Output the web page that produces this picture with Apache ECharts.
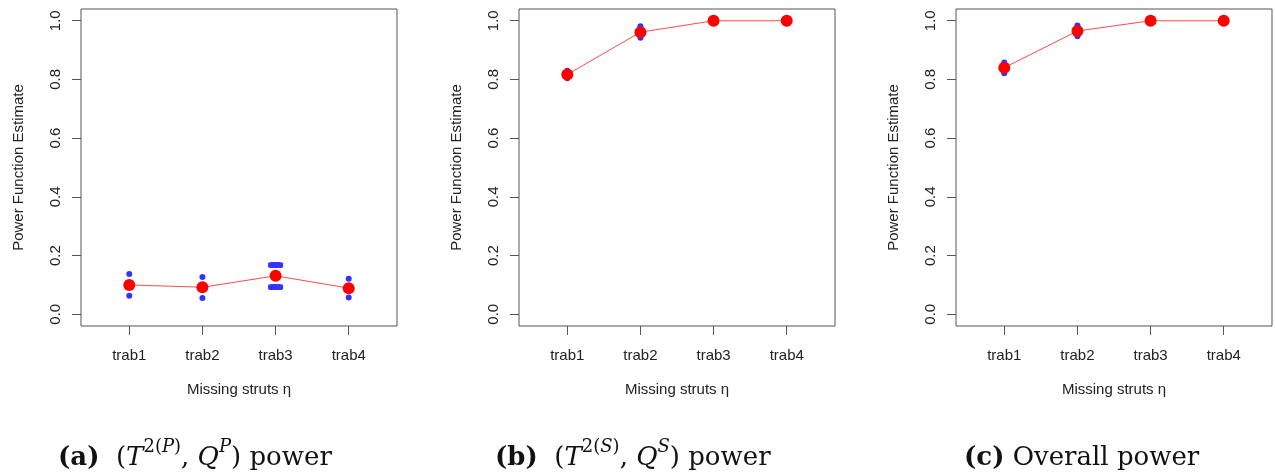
<!DOCTYPE html>
<html>
<head>
<meta charset="utf-8">
<script src="https://cdn.jsdelivr.net/npm/echarts@6/dist/echarts.min.js"></script>
<style>
  html, body { margin: 0; padding: 0; background: #fff; }
  #chart { width: 1275px; height: 475px; }
</style>
</head>
<body>
<div id="chart"></div>
<script>
// Missing strut configurations on the x axis
const categories = ['trab1', 'trab2', 'trab3', 'trab4'];
const yTicks = [0, 0.2, 0.4, 0.6, 0.8, 1.0];

// (a) (T^2(P), Q^P) power
const meanP = [0.100, 0.092, 0.131, 0.089];
const lowP  = [0.063, 0.055, 0.093, 0.057];
const highP = [0.137, 0.127, 0.168, 0.121];

// (b) (T^2(S), Q^S) power
const meanS = [0.817, 0.961, 1.000, 1.000];
const lowS  = [0.804, 0.942, 1.000, 1.000];
const highS = [0.830, 0.981, 1.000, 1.000];

// (c) Overall power
const meanAll = [0.840, 0.965, 1.000, 1.000];
const lowAll  = [0.821, 0.947, 1.000, 1.000];
const highAll = [0.858, 0.984, 1.000, 1.000];

const panels = [
  { mean: meanP,   low: lowP,   high: highP,   left: 81,  wideIdx: 2 },
  { mean: meanS,   low: lowS,   high: highS,   left: 519, wideIdx: -1 },
  { mean: meanAll, low: lowAll, high: highAll, left: 956, wideIdx: -1 }
];

const FONT = '"Liberation Sans", Arial, Helvetica, sans-serif';
const INK = '#222';
const FRAME = '#555';

const grids = [], xAxes = [], yAxes = [], series = [];

panels.forEach((p, k) => {
  grids.push({
    left: p.left, top: 9, width: 316, height: 317,
    show: true, borderColor: FRAME, borderWidth: 1, backgroundColor: 'transparent'
  });
  xAxes.push({
    type: 'value', gridIndex: k, min: 0.34, max: 4.66, position: 'bottom',
    name: 'Missing struts η', nameLocation: 'middle', nameGap: 56,
    nameTextStyle: { fontFamily: FONT, fontSize: 15, color: INK },
    axisLine: { show: false, onZero: false },
    splitLine: { show: false },
    axisTick: { show: true, inside: false, length: 9, customValues: [1, 2, 3, 4], lineStyle: { color: FRAME } },
    axisLabel: {
      customValues: [1, 2, 3, 4], margin: 22,
      fontFamily: FONT, fontSize: 15, color: INK,
      formatter: v => categories[Math.round(v) - 1]
    }
  });
  yAxes.push({
    type: 'value', gridIndex: k, min: -0.04, max: 1.04, position: 'left',
    name: 'Power Function Estimate', nameLocation: 'middle', nameGap: 55,
    nameTextStyle: { fontFamily: FONT, fontSize: 15, color: INK },
    axisLine: { show: false, onZero: false },
    splitLine: { show: false },
    axisTick: { show: true, inside: false, length: 9, customValues: yTicks, lineStyle: { color: FRAME } },
    axisLabel: {
      customValues: yTicks, rotate: 90, margin: 18,
      fontFamily: FONT, fontSize: 15, color: INK,
      formatter: v => v.toFixed(1)
    }
  });

  const bounds = [];
  p.low.forEach((v, i) => bounds.push([i + 1, v]));
  p.high.forEach((v, i) => bounds.push([i + 1, v]));
  const isWide = val => Math.round(val[0]) - 1 === p.wideIdx;

  // replicate estimates (blue)
  series.push({
    type: 'scatter', xAxisIndex: k, yAxisIndex: k,
    data: bounds,
    symbol: val => (isWide(val) ? 'roundRect' : 'circle'),
    symbolSize: val => (isWide(val) ? [15, 6] : 6),
    itemStyle: { color: '#0000ff' }, z: 2, silent: true
  });
  // mean estimate (red line and points)
  series.push({
    type: 'line', xAxisIndex: k, yAxisIndex: k,
    data: p.mean.map((v, i) => [i + 1, v]),
    symbol: 'circle', symbolSize: 12, showAllSymbol: true,
    lineStyle: { color: '#ff4a4a', width: 1 },
    itemStyle: { color: '#ff0000' },
    z: 3, silent: true
  });
});

const CAP = '"DejaVu Serif", "Liberation Serif", serif';
const base = { fontFamily: CAP, fontSize: 26, lineHeight: 33, verticalAlign: 'bottom', fill: '#111' };
const sup = { fontFamily: CAP, fontSize: 18, lineHeight: 20, verticalAlign: 'top', fill: '#111' };
const rich = {
  b:    Object.assign({}, base, { fontWeight: 'bold' }),
  n:    Object.assign({}, base),
  i:    Object.assign({}, base, { fontStyle: 'italic' }),
  sup:  Object.assign({}, sup),
  supi: Object.assign({}, sup, { fontStyle: 'italic' })
};

const captions = [
  { x: 58,  text: '{b|(a)}{n|  (}{i|T}{sup|2(}{supi|P}{sup|)}{n|, }{i|Q}{supi|P}{n|) power}' },
  { x: 495, text: '{b|(b)}{n|  (}{i|T}{sup|2(}{supi|S}{sup|)}{n|, }{i|Q}{supi|S}{n|) power}' },
  { x: 964, text: '{b|(c)}{n| Overall power}' }
];

const chart = echarts.init(document.getElementById('chart'), null, { renderer: 'canvas' });
chart.setOption({
  animation: false,
  backgroundColor: '#fff',
  grid: grids,
  xAxis: xAxes,
  yAxis: yAxes,
  series: series,
  graphic: captions.map(c => ({
    type: 'text', x: c.x, y: 471, silent: true,
    style: { text: c.text, rich: rich, verticalAlign: 'bottom', align: 'left' }
  }))
});
</script>
</body>
</html>
